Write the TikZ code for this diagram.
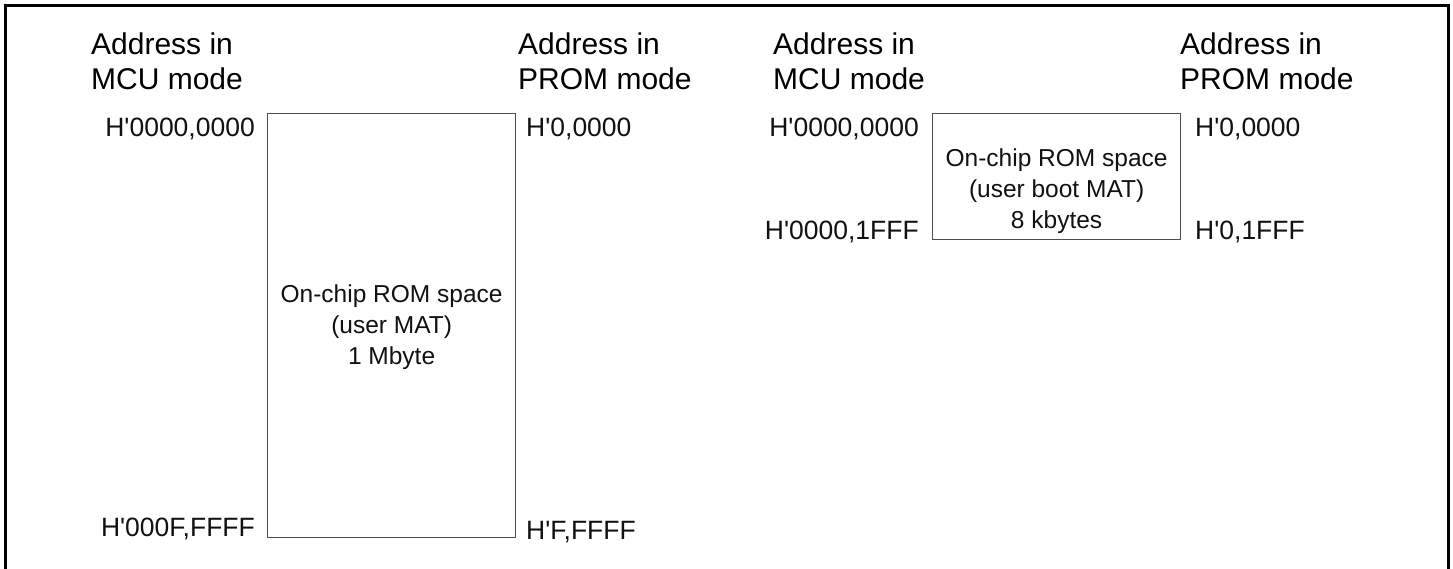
\documentclass[tikz,border=0pt]{standalone}
\usepackage{fontspec}
\setmainfont{Liberation Sans}
\usetikzlibrary{positioning}
\definecolor{boxgray}{HTML}{4D4D4D}
\definecolor{ink}{HTML}{111111}
\newcommand{\hq}{H\textquotesingle}

\begin{document}
\begin{tikzpicture}[x=1pt,y=-1pt,
  head/.style={align=left,inner sep=0pt,anchor=base west,font=\fontsize{30}{35}\selectfont},
  addr/.style={inner sep=0pt,font=\fontsize{26.5}{30}\selectfont,text=ink},
  mat/.style={draw=boxgray,line width=1.2pt,inner sep=0pt,anchor=north west},
  lbl/.style={align=center,inner sep=0pt,anchor=base,font=\fontsize{24.5}{31}\selectfont,text=ink}
]
\useasboundingbox (0,0) rectangle (1453,569);
% frame, open at the bottom
\draw[line width=3pt] (5.5,575) -- (5.5,5.5) -- (1448,5.5) -- (1448,575);

% user MAT
\node[head] (hmcu1) at (91,90) {Address in\\MCU mode};
\node[head] (hprom1) at (518,90) {Address in\\PROM mode};
\node[mat,minimum width=248pt,minimum height=424pt] (umat) at (267,113) {};
\node[lbl] (umattxt) at ([yshift=-251pt]umat.north) {On-chip ROM space\\(user MAT)\\1 Mbyte};
\node[addr,anchor=base east] (umcutop) at (255,137) {\hq0000,0000};
\node[addr,anchor=base east] (umcubot) at (255,536) {\hq000F,FFFF};
\node[addr,anchor=base west] (upromtop) at (526,137) {\hq0,0000};
\node[addr,anchor=base west] (uprombot) at (526,539) {\hq F,FFFF};

% user boot MAT
\node[head] (hmcu2) at (773,90) {Address in\\MCU mode};
\node[head] (hprom2) at (1180,90) {Address in\\PROM mode};
\node[mat,minimum width=248pt,minimum height=126pt] (bmat) at (932,113) {};
\node[lbl] (bmattxt) at ([yshift=-116pt]bmat.north) {On-chip ROM space\\(user boot MAT)\\8 kbytes};
\node[addr,anchor=base east] (bmcutop) at (919,137) {\hq0000,0000};
\node[addr,anchor=base east] (bmcubot) at (919,240) {\hq0000,1FFF};
\node[addr,anchor=base west] (bpromtop) at (1195,137) {\hq0,0000};
\node[addr,anchor=base west] (bprombot) at (1195,240) {\hq0,1FFF};
\end{tikzpicture}
\end{document}
